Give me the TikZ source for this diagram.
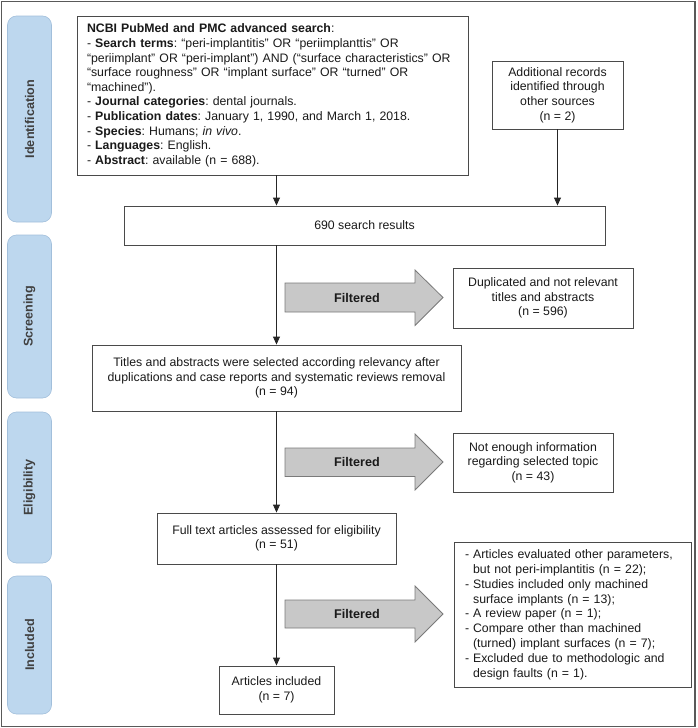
\documentclass[tikz,border=0pt]{standalone}
\usepackage{fontspec}
\setmainfont{Liberation Sans}
\usetikzlibrary{arrows.meta}
\definecolor{sideblue}{HTML}{BDD7EE}
\definecolor{sideedge}{HTML}{A2BFDB}
\definecolor{boxedge}{HTML}{4A4A4A}
\definecolor{arrowfill}{HTML}{C8C8C8}
\definecolor{arrowedge}{HTML}{7A7A7A}
\definecolor{txt}{HTML}{1A1A1A}
\begin{document}
\frenchspacing
\begin{tikzpicture}[x=1pt,y=-1pt,
  every node/.style={font=\fontsize{12.3}{14.6}\selectfont\frenchspacing, text=txt},
  box/.style={draw=boxedge, line width=0.9pt, fill=white, align=center, inner sep=0pt},
  side/.style={draw=sideedge, line width=0.6pt, fill=sideblue, rounded corners=9pt, minimum width=44pt, inner sep=0pt},
  sidetext/.style={rotate=90, font=\fontsize{12.6}{14}\selectfont\bfseries, text=black!75},
  filt/.style={draw=arrowedge, line width=0.8pt, fill=arrowfill},
  filttext/.style={font=\fontsize{12.6}{14}\selectfont\bfseries},
  conn/.style={draw=black!85, line width=0.9pt, -{Triangle[length=8pt,width=7pt]}}
]
\useasboundingbox (0,0) rectangle (698,728);
\draw[draw=black!65, line width=1.1pt] (1.5,1.5) rectangle (695,726.5);

% side labels
\node[side, minimum height=206pt] (sid) at (29.5,119) {};
\node[sidetext] (sidt) at (sid.center) {Identification};
\node[side, minimum height=163pt] (sscr) at (29.5,316.5) {};
\node[sidetext] (sscrt) at (sscr.center) {Screening};
\node[side, minimum height=151pt] (selig) at (29.5,487.5) {};
\node[sidetext] (seligt) at (selig.center) {Eligibility};
\node[side, minimum height=138pt] (sinc) at (29.5,645) {};
\node[sidetext] (sinct) at (sinc.center) {Included};

% boxes
\node[box, minimum width=391pt, minimum height=159pt, text width=371pt, align=left] (search) at (272.5,95.5) {%
\textbf{NCBI PubMed and PMC advanced search}:\\
- \textbf{Search terms}: “peri-implantitis” OR “periimplanttis” OR\\
“periimplant” OR “peri-implant”) AND (“surface characteristics” OR\\
“surface roughness” OR “implant surface” OR “turned” OR\\
“machined”).\\
- \textbf{Journal categories}: dental journals.\\
- \textbf{Publication dates}: January 1, 1990, and March 1, 2018.\\
- \textbf{Species}: Humans; \textit{in vivo}.\\
- \textbf{Languages}: English.\\
- \textbf{Abstract}: available (n = 688).};

\node[box, minimum width=131pt, minimum height=68pt] (add) at (557.5,95) {Additional records\\identified through\\other sources\\(n = 2)};

\node[box, minimum width=481pt, minimum height=39pt] (res) at (364.5,225.5) {690 search results};

\node[box, minimum width=180pt, minimum height=60pt] (dup) at (543,298) {Duplicated and not relevant\\titles and abstracts\\(n = 596)};

\node[box, minimum width=369pt, minimum height=66pt] (titles) at (276.5,378) {Titles and abstracts were selected according relevancy after\\duplications and case reports and systematic reviews removal\\(n = 94)};

\node[box, minimum width=160pt, minimum height=59pt] (noinfo) at (533,462.5) {Not enough information\\regarding selected topic\\(n = 43)};

\node[box, minimum width=239pt, minimum height=51pt] (full) at (276.5,538.5) {Full text articles assessed for eligibility\\(n = 51)};

\node[box, minimum width=237pt, minimum height=145pt, text width=215pt, align=left, font=\fontsize{12.3}{14.9}\selectfont\frenchspacing] (excl) at (572.5,615) {%
\begin{tabular}{@{}l@{\hspace{4pt}}l@{}}
- & Articles evaluated other parameters,\\
  & but not peri-implantitis (n = 22);\\
- & Studies included only machined\\
  & surface implants (n = 13);\\
- & A review paper (n = 1);\\
- & Compare other than machined\\
  & (turned) implant surfaces (n = 7);\\
- & Excluded due to methodologic and\\
  & design faults (n = 1).
\end{tabular}};

\node[box, minimum width=115pt, minimum height=48pt] (incl) at (276.5,690) {Articles included\\(n = 7)};

% filter arrows
\draw[filt] (285,283) -- (415,283) -- (415,270) -- (443,297.5) -- (415,325.5) -- (415,312) -- (285,312) -- cycle;
\node[filttext] (f1) at (357,297.5) {Filtered};
\draw[filt] (285,448) -- (415,448) -- (415,434) -- (443,462) -- (415,490) -- (415,476.5) -- (285,476.5) -- cycle;
\node[filttext] (f2) at (357,462) {Filtered};
\draw[filt] (285,600) -- (415,600) -- (415,586) -- (443,614) -- (415,642) -- (415,628) -- (285,628) -- cycle;
\node[filttext] (f3) at (357,614) {Filtered};

% connectors
\draw[conn] (search.south -| titles.north) -- (res.north -| titles.north);
\draw[conn] (add.south) -- (add.south |- res.north);
\draw[conn] (res.south -| titles.north) -- (titles.north);
\draw[conn] (titles.south) -- (full.north);
\draw[conn] (full.south) -- (incl.north);
\end{tikzpicture}
\end{document}
